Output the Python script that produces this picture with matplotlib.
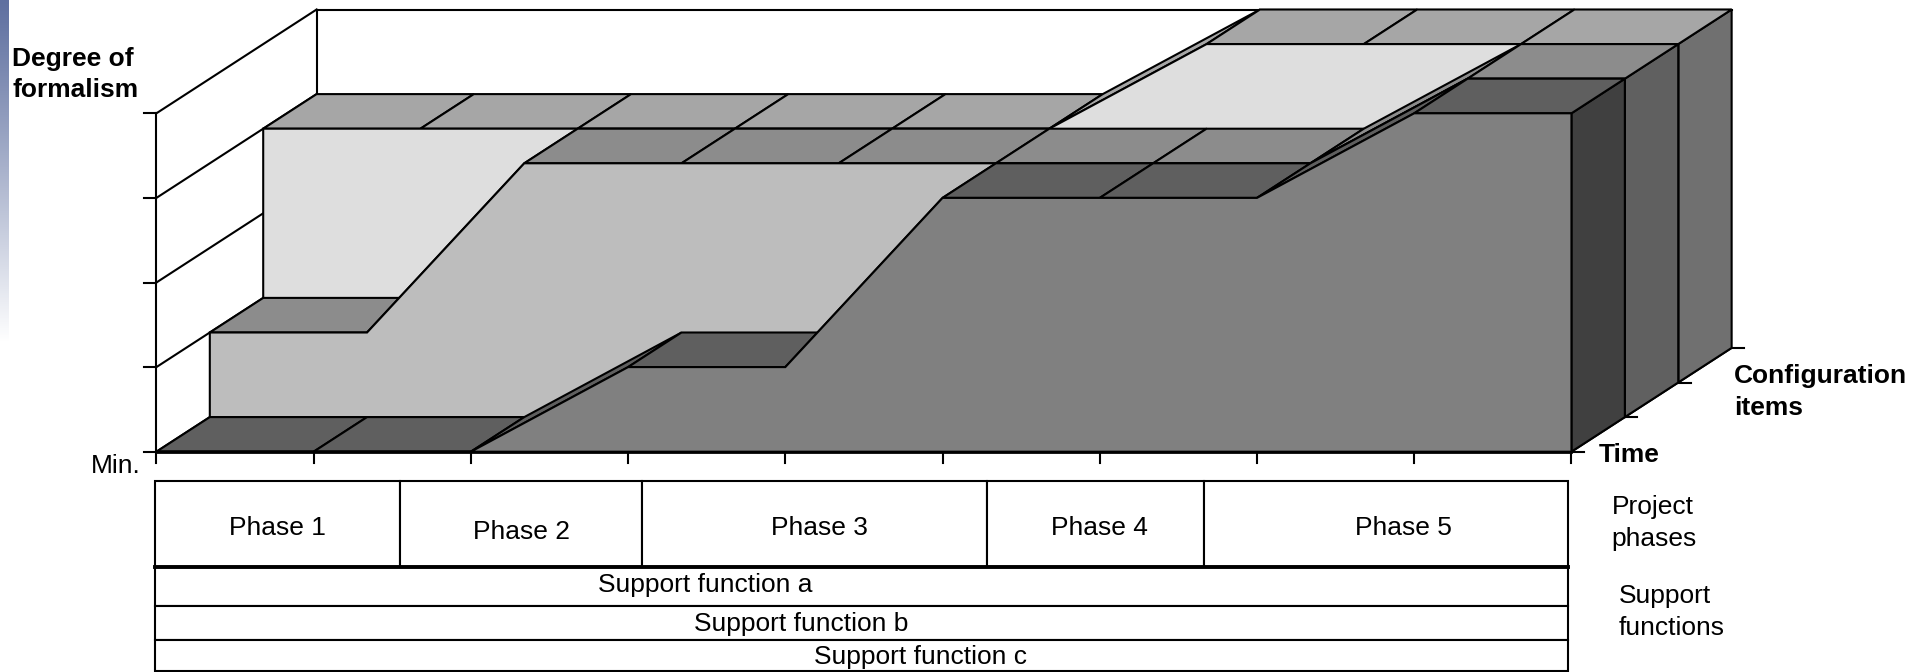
import numpy as np
import matplotlib
matplotlib.use('Agg')
import matplotlib.pyplot as plt
from matplotlib.patches import Polygon, Rectangle

plt.rcParams['font.family'] = ['Liberation Sans', 'DejaVu Sans']

# levels at each of the 10 time ticks, one list per configuration item
front_item = [0, 0, 0, 1, 1, 3, 3, 3, 4, 4]
middle_item = [1, 1, 3, 3, 3, 3, 3, 3, 4, 4]
back_item = [3, 3, 3, 3, 3, 3, 4, 4, 4, 4]

phase_names = ['Phase 1', 'Phase 2', 'Phase 3', 'Phase 4', 'Phase 5']
# phase ends and label centres, measured in time ticks
phase_ends = [1.55, 3.09, 5.28, 6.66, 8.98]
phase_centers = [0.77, 2.32, 4.22, 6.0, 7.93]
support_names = ['Support function a', 'Support function b', 'Support function c']
support_centers = [3.49, 4.10, 4.86]

face_colors = ['#808080', '#bdbdbd', '#dedede']
top_colors = ['#5f5f5f', '#8c8c8c', '#a6a6a6']
side_colors = ['#404040', '#606060', '#707070']

S = 1916 / 1568  # layout below was measured on the 1568 wide view
X0, Y0 = 128 * S, 451.7
STEP = 128.67 * S
LEVEL = 84.6
DX, DY = 43.7 * S, 34.6
LW = 1.5
FS = 19


def proj(t, level, depth=0):
    return (X0 + t * STEP + depth * DX, Y0 - level * LEVEL - depth * DY)


fig = plt.figure(figsize=(19.16, 6.72), dpi=100)
ax = fig.add_axes([0, 0, 1, 1])

# slide edge gradient
grad = np.linspace(0, 1, 256).reshape(-1, 1)
band = np.array([0x5f, 0x70, 0xa0]) / 255
img = band + (1 - band) * grad[..., None] ** 1.1
ax.imshow(img, extent=[0, 9, 342, 0], aspect='auto', zorder=0)


def line(p, q, lw=LW):
    ax.plot([p[0], q[0]], [p[1], q[1]], color='black', lw=lw, zorder=1,
            solid_capstyle='projecting')


# walls
for lev in range(1, 5):
    line(proj(0, lev), proj(0, lev, 3))
line(proj(0, 0), proj(0, 4))
line(proj(0, 4, 3), proj(0, 0, 3))
line(proj(0, 4, 3), proj(9, 4, 3))
line(proj(0, 0), proj(0, 0, 3))
line(proj(9, 0), proj(9, 0, 3))
for lev in range(0, 5):
    p = proj(0, lev)
    line(p, (p[0] - 12, p[1]))
for t in range(10):
    p = proj(t, 0)
    line(p, (p[0], p[1] + 11))
for d in range(4):
    p = proj(9, 0, d)
    line(p, (p[0] + 12.5, p[1]))

z = 2
series = [front_item, middle_item, back_item]
for d in [2, 1, 0]:
    vals = series[d]
    # right end
    ax.add_patch(Polygon([proj(9, 0, d), proj(9, vals[-1], d),
                          proj(9, vals[-1], d + 1), proj(9, 0, d + 1)],
                         fc=side_colors[d], ec='black', lw=LW, zorder=z))
    # top strips
    for i in range(9):
        ax.add_patch(Polygon([proj(i, vals[i], d), proj(i + 1, vals[i + 1], d),
                              proj(i + 1, vals[i + 1], d + 1), proj(i, vals[i], d + 1)],
                             fc=top_colors[d], ec='black', lw=LW, zorder=z))
    # front face
    pts = [proj(0, 0, d)] + [proj(i, vals[i], d) for i in range(10)] + [proj(9, 0, d)]
    ax.add_patch(Polygon(pts, fc=face_colors[d], ec='black', lw=LW, zorder=z))
    z += 1

line(proj(0, 0), proj(9, 0), lw=2)
ax.lines[-1].set_zorder(10)

# phase table
tab_left = 127 * S
rows = [394 * S, 464 * S, 496 * S, 524 * S, 549 * S]
edges = [tab_left] + [proj(e, 0)[0] for e in phase_ends]
phase_y = [432, 435, 432, 432, 432]
for i, name in enumerate(phase_names):
    ax.add_patch(Rectangle((edges[i], rows[0]), edges[i + 1] - edges[i], rows[1] - rows[0],
                           fc='white', ec='black', lw=LW, zorder=5))
    ax.text(proj(phase_centers[i], 0)[0], phase_y[i] * S, name, fontsize=FS,
            ha='center', va='center', zorder=6)
support_y = [479, 511, 538]
for i, name in enumerate(support_names):
    ax.add_patch(Rectangle((edges[0], rows[i + 1]), edges[-1] - edges[0], rows[i + 2] - rows[i + 1],
                           fc='white', ec='black', lw=LW, zorder=5))
    ax.text(proj(support_centers[i], 0)[0], support_y[i] * S, name, fontsize=FS,
            ha='center', va='center', zorder=6)
ax.plot([edges[0], edges[-1]], [rows[1], rows[1]], color='black', lw=2.8, zorder=7)

# side labels
for txt, x, y, weight, ha in [('Degree of', 10, 48, 'bold', 'left'),
                              ('formalism', 10, 74, 'bold', 'left'),
                              ('Min.', 115, 381, 'normal', 'right'),
                              ('Time', 1308, 372, 'bold', 'left'),
                              ('Configuration', 1419, 308, 'bold', 'left'),
                              ('items', 1419, 334, 'bold', 'left'),
                              ('Project', 1319, 415, 'normal', 'left'),
                              ('phases', 1319, 441, 'normal', 'left'),
                              ('Support', 1325, 488, 'normal', 'left'),
                              ('functions', 1325, 514, 'normal', 'left')]:
    ax.text(x * S, y * S, txt, fontsize=FS, fontweight=weight, ha=ha, va='center', zorder=6)

ax.set_xlim(0, 1916)
ax.set_ylim(672, 0)
ax.axis('off')
fig.savefig('out.png', dpi=100)
